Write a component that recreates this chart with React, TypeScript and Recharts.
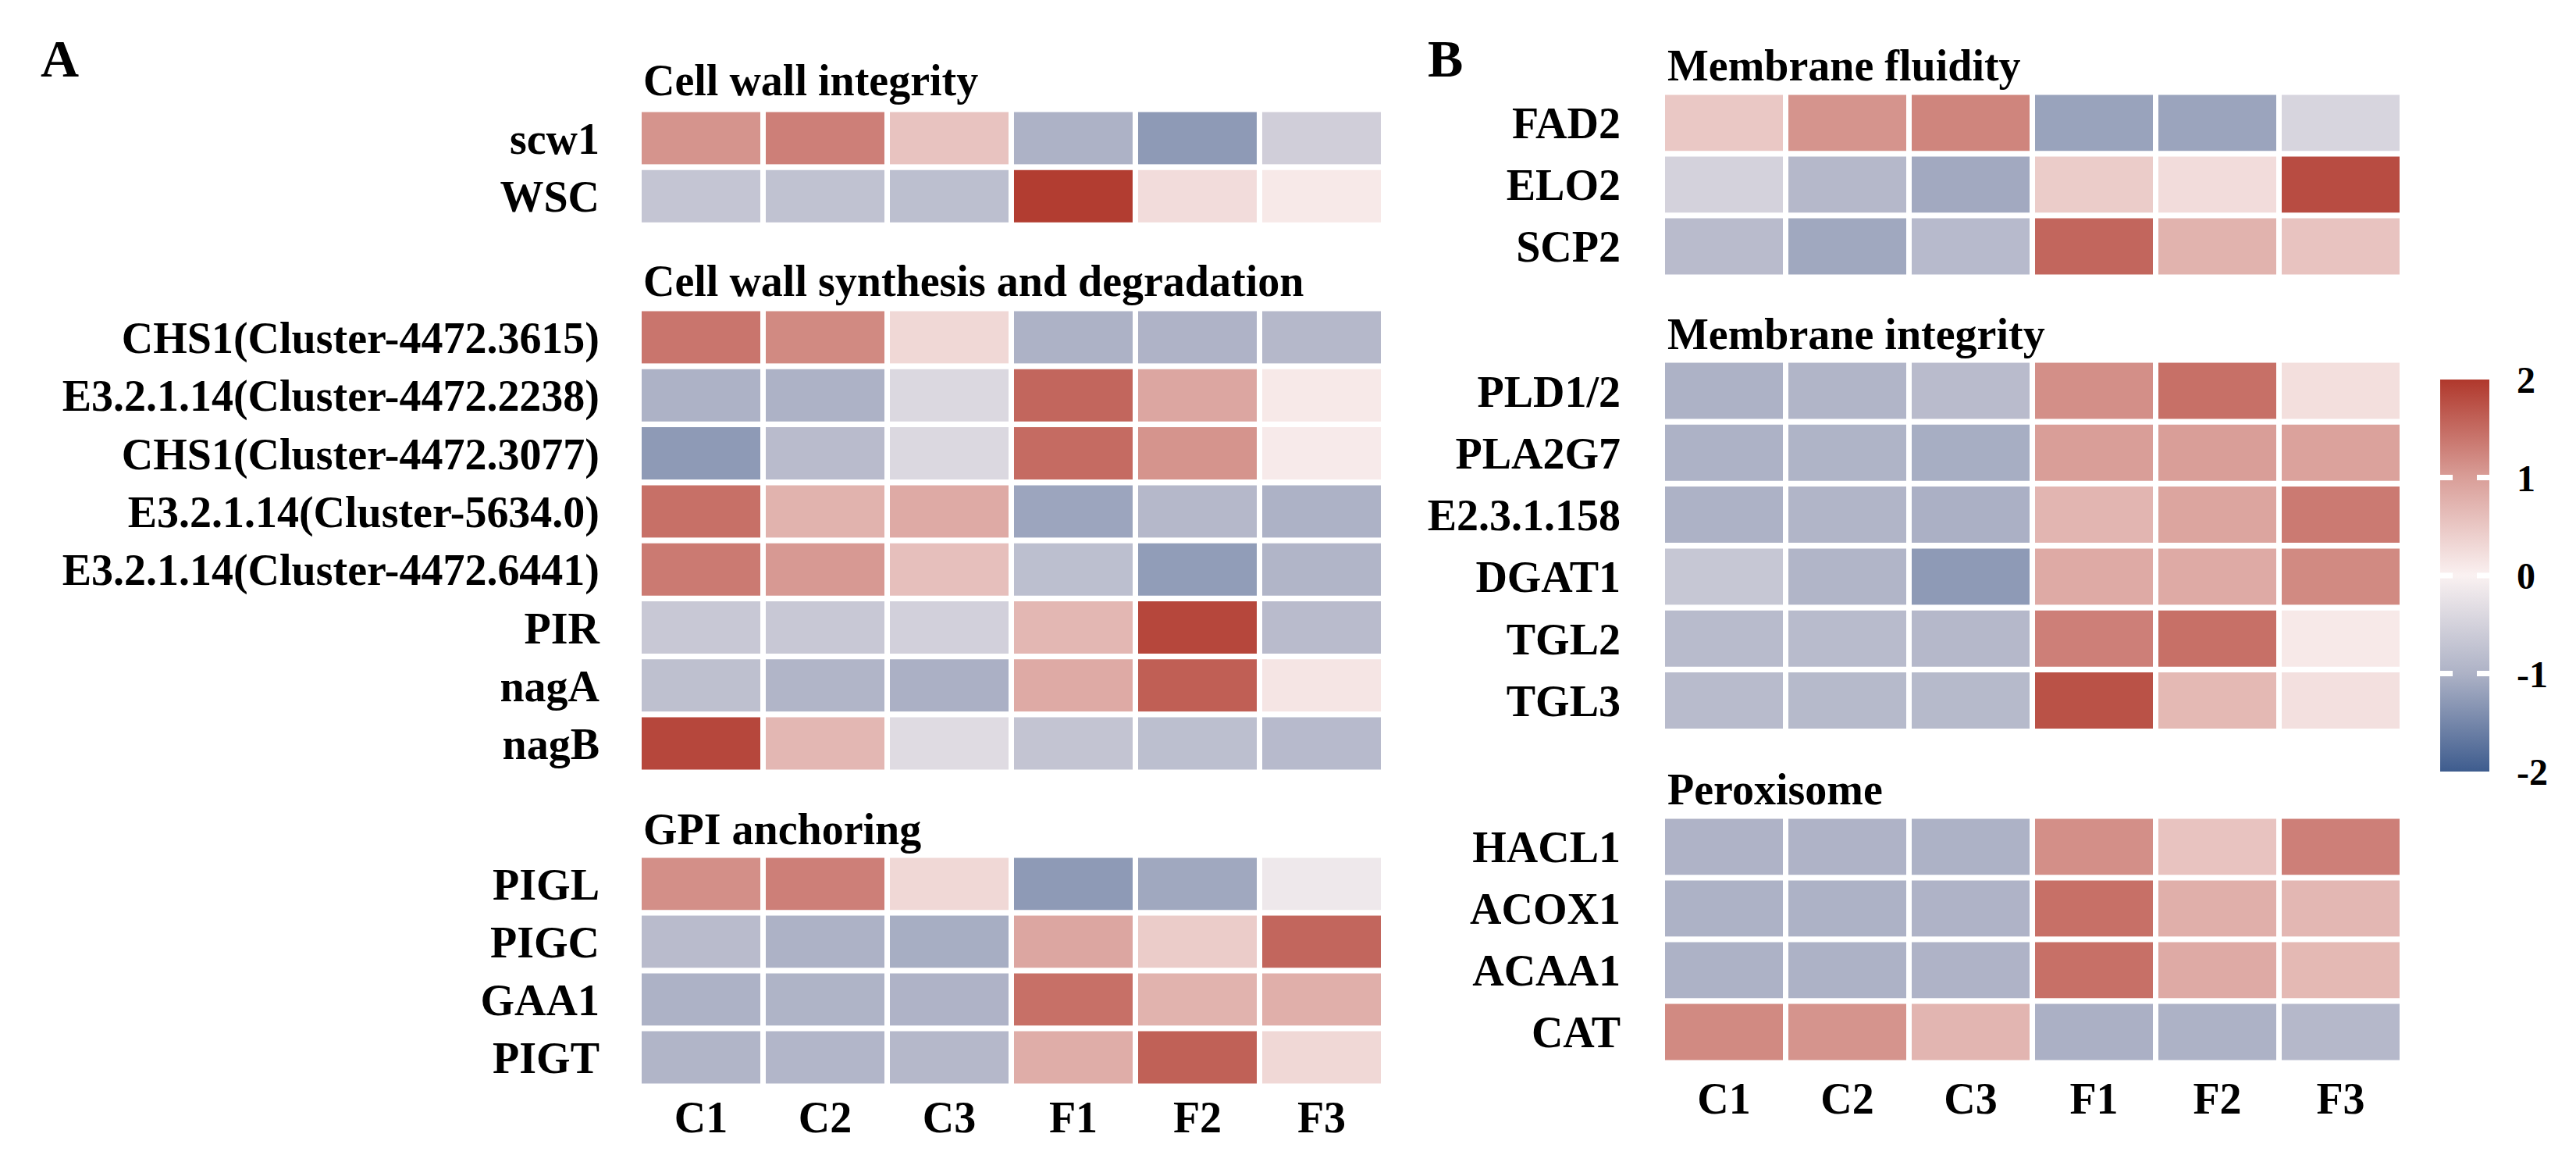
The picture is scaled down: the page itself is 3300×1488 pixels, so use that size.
import React from 'react';
import { BarChart, Bar, XAxis, YAxis, Cell, ReferenceLine } from 'recharts';

const columns = ['C1', 'C2', 'C3', 'F1', 'F2', 'F3'];

// Panel A
const wallIntegrityGenes = ['scw1', 'WSC'];
const wallIntegrityValues = [
  [1.1, 1.3, 0.55, -1.0, -1.28, -0.55],
  [-0.7, -0.75, -0.8, 1.95, 0.25, 0.1],
];

const wallSynthesisGenes = [
  'CHS1(Cluster-4472.3615)',
  'E3.2.1.14(Cluster-4472.2238)',
  'CHS1(Cluster-4472.3077)',
  'E3.2.1.14(Cluster-5634.0)',
  'E3.2.1.14(Cluster-4472.6441)',
  'PIR',
  'nagA',
  'nagB',
];
const wallSynthesisValues = [
  [1.4, 1.2, 0.3, -1.0, -0.98, -0.9],
  [-1.0, -1.0, -0.4, 1.55, 0.9, 0.1],
  [-1.28, -0.85, -0.4, 1.5, 1.1, 0.08],
  [1.45, 0.75, 0.85, -1.15, -0.9, -1.0],
  [1.35, 1.05, 0.6, -0.8, -1.25, -0.95],
  [-0.65, -0.65, -0.52, 0.7, 1.85, -0.85],
  [-0.78, -0.95, -1.02, 0.85, 1.62, 0.15],
  [1.85, 0.7, -0.35, -0.72, -0.8, -0.87],
];

const gpiGenes = ['PIGL', 'PIGC', 'GAA1', 'PIGT'];
const gpiValues = [
  [1.15, 1.3, 0.3, -1.28, -1.12, -0.15],
  [-0.85, -1.0, -1.05, 0.9, 0.45, 1.55],
  [-1.0, -0.97, -0.98, 1.45, 0.75, 0.8],
  [-0.95, -0.93, -0.9, 0.82, 1.6, 0.3],
];

// Panel B
const fluidityGenes = ['FAD2', 'ELO2', 'SCP2'];
const fluidityValues = [
  [0.5, 1.1, 1.25, -1.18, -1.16, -0.45],
  [-0.5, -0.9, -1.1, 0.45, 0.25, 1.8],
  [-0.85, -1.12, -0.87, 1.55, 0.75, 0.55],
];

const membraneGenes = ['PLD1/2', 'PLA2G7', 'E2.3.1.158', 'DGAT1', 'TGL2', 'TGL3'];
const membraneValues = [
  [-1.0, -0.95, -0.85, 1.15, 1.45, 0.22],
  [-1.0, -0.97, -1.05, 1.0, 1.0, 0.95],
  [-1.0, -0.95, -1.02, 0.72, 0.92, 1.35],
  [-0.67, -0.95, -1.28, 0.85, 0.85, 1.2],
  [-0.86, -0.86, -0.9, 1.3, 1.45, 0.1],
  [-0.86, -0.88, -0.88, 1.75, 0.68, 0.2],
];

const peroxisomeGenes = ['HACL1', 'ACOX1', 'ACAA1', 'CAT'];
const peroxisomeValues = [
  [-0.98, -0.98, -1.0, 1.15, 0.55, 1.3],
  [-1.0, -1.0, -0.98, 1.45, 0.8, 0.7],
  [-1.0, -1.0, -0.98, 1.45, 0.85, 0.68],
  [1.2, 1.1, 0.72, -1.02, -1.0, -0.9],
];

// Colour scale
const scaleTicks = [-2, -1, 0, 1, 2];
const scaleColors = ['#3E5C8E', '#ADB2C6', '#FAF1F1', '#D99E98', '#B0382C'];
const legendRange = [{ name: 'z', range: [-2, 2] }];

const FONT = '"Liberation Serif", "Times New Roman", Times, serif';

function hexToRgb(h: string) {
  return [parseInt(h.slice(1, 3), 16), parseInt(h.slice(3, 5), 16), parseInt(h.slice(5, 7), 16)];
}

function zColor(v: number) {
  const x = Math.max(-2, Math.min(2, v));
  let i = 0;
  while (i < scaleTicks.length - 2 && x > scaleTicks[i + 1]) i++;
  const t = (x - scaleTicks[i]) / (scaleTicks[i + 1] - scaleTicks[i]);
  const a = hexToRgb(scaleColors[i]);
  const b = hexToRgb(scaleColors[i + 1]);
  const c = a.map((av, k) => Math.round(av + (b[k] - av) * t));
  return `rgb(${c[0]},${c[1]},${c[2]})`;
}

function buildRows(genes: string[], values: number[][]) {
  return genes.map((g, i) => {
    const row: any = { gene: g };
    columns.forEach((c, j) => {
      row[c] = values[i][j];
      row['w_' + c] = 1;
    });
    return row;
  });
}

type HeatProps = {
  genes: string[];
  values: number[][];
  left: number;
  top: number;
  labelWidth: number;
  labelGap: number;
  plotWidth: number;
  rowHeight: number;
  showX?: boolean;
  xMargin?: number;
};

function HeatGroup({ genes, values, left, top, labelWidth, labelGap, plotWidth, rowHeight, showX, xMargin }: HeatProps) {
  const rows = buildRows(genes, values);
  const xHeight = showX ? 90 : 0;
  const plotHeight = rowHeight * genes.length;
  return (
    <div style={{ position: 'absolute', left, top }}>
      <BarChart
        width={labelWidth + plotWidth}
        height={plotHeight + xHeight}
        data={rows}
        layout="vertical"
        margin={{ top: 0, right: 0, bottom: 0, left: 0 }}
        barCategoryGap={0}
        barGap={0}
      >
        <XAxis
          type="number"
          domain={[0, columns.length]}
          ticks={columns.map((_, i) => i + 0.5)}
          tickFormatter={(v: number) => columns[Math.floor(v)]}
          interval={0}
          hide={!showX}
          height={xHeight || 1}
          axisLine={false}
          tickLine={false}
          tickSize={0}
          tickMargin={xMargin ?? 20}
          tick={{ fill: '#000', fontSize: 56, fontWeight: 'bold', fontFamily: FONT }}
        />
        <YAxis
          type="category"
          dataKey="gene"
          width={labelWidth}
          interval={0}
          axisLine={false}
          tickLine={false}
          tickSize={0}
          tickMargin={labelGap}
          tick={{ fill: '#000', fontSize: 56, fontWeight: 'bold', fontFamily: FONT }}
        />
        {columns.map((c) => (
          <Bar
            key={c}
            dataKey={'w_' + c}
            stackId="heat"
            isAnimationActive={false}
            stroke="#ffffff"
            strokeWidth={7}
          >
            {rows.map((r, i) => (
              <Cell key={i} fill={zColor(r[c])} />
            ))}
          </Bar>
        ))}
      </BarChart>
    </div>
  );
}

function ColorLegend() {
  return (
    <div style={{ position: 'absolute', left: 3126, top: 456 }}>
      <BarChart
        width={63 + 150}
        height={502 + 60}
        data={legendRange}
        margin={{ top: 30, right: 0, bottom: 30, left: 0 }}
        barCategoryGap={0}
      >
        <XAxis dataKey="name" type="category" hide />
        <YAxis
          type="number"
          orientation="right"
          domain={[-2, 2]}
          ticks={scaleTicks}
          interval={0}
          width={150}
          axisLine={false}
          tickLine={false}
          tickSize={0}
          tickMargin={35}
          tick={{ fill: '#000', fontSize: 48, fontWeight: 'bold', fontFamily: FONT, textAnchor: 'start' }}
        />
        <Bar dataKey="range" fill="url(#zGradient)" isAnimationActive={false} />
        {scaleTicks.slice(1, -1).map((t) => (
          <ReferenceLine key={t} y={t} stroke="#ffffff" strokeWidth={7} strokeDasharray="16 31 16" />
        ))}
      </BarChart>
    </div>
  );
}

const titleStyle: React.CSSProperties = { fontFamily: FONT, fontWeight: 'bold', fontSize: 56, fill: '#000' };

export default function App() {
  return (
    <div style={{ position: 'absolute', left: 0, top: 0, width: 3300, height: 1488, background: '#fff' }}>
      {/* Panel A */}
      <HeatGroup genes={wallIntegrityGenes} values={wallIntegrityValues} left={0} top={139.5}
        labelWidth={818.5} labelGap={50.5} plotWidth={954} rowHeight={74.3} />
      <HeatGroup genes={wallSynthesisGenes} values={wallSynthesisValues} left={0} top={394.5}
        labelWidth={818.5} labelGap={50.5} plotWidth={954} rowHeight={74.3} />
      <HeatGroup genes={gpiGenes} values={gpiValues} left={0} top={1094.5}
        labelWidth={818.5} labelGap={50.5} plotWidth={954} rowHeight={74.0} showX xMargin={19} />
      {/* Panel B */}
      <HeatGroup genes={fluidityGenes} values={fluidityValues} left={1800} top={117.5}
        labelWidth={329.5} labelGap={53.5} plotWidth={948} rowHeight={79} />
      <HeatGroup genes={membraneGenes} values={membraneValues} left={1800} top={460.5}
        labelWidth={329.5} labelGap={53.5} plotWidth={948} rowHeight={79.3} />
      <HeatGroup genes={peroxisomeGenes} values={peroxisomeValues} left={1800} top={1044.5}
        labelWidth={329.5} labelGap={53.5} plotWidth={948} rowHeight={79} showX xMargin={25} />
      <ColorLegend />
      <svg width={3300} height={1488} style={{ position: 'absolute', left: 0, top: 0, pointerEvents: 'none' }}>
        <defs>
          <linearGradient id="zGradient" x1="0" y1="0" x2="0" y2="1">
            {scaleColors.slice().reverse().map((c, i) => (
              <stop key={i} offset={`${(i / (scaleColors.length - 1)) * 100}%`} stopColor={c} />
            ))}
          </linearGradient>
        </defs>
        <text x={52} y={98} style={{ ...titleStyle, fontSize: 68 }}>A</text>
        <text x={1829} y={98} style={{ ...titleStyle, fontSize: 68 }}>B</text>
        <text x={824} y={122} style={titleStyle}>Cell wall integrity</text>
        <text x={824} y={379} style={titleStyle}>Cell wall synthesis and degradation</text>
        <text x={824} y={1081} style={titleStyle}>GPI anchoring</text>
        <text x={2136} y={103} style={titleStyle}>Membrane fluidity</text>
        <text x={2136} y={447} style={titleStyle}>Membrane integrity</text>
        <text x={2136} y={1030} style={titleStyle}>Peroxisome</text>
      </svg>
    </div>
  );
}
